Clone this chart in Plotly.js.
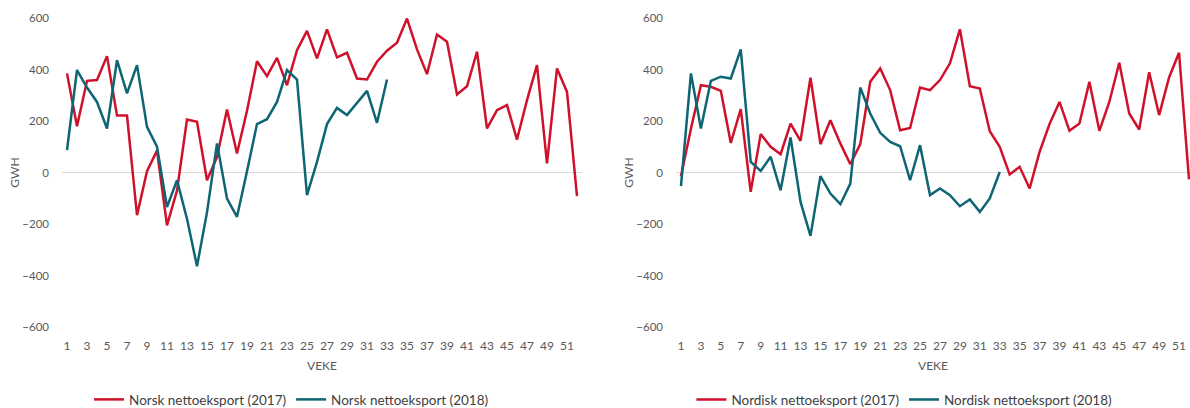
<!DOCTYPE html>
<html>
<head>
<meta charset="utf-8">
<script src="https://cdn.plot.ly/plotly-3.0.1.min.js"></script>
<style>
    body { margin: 0; background: #fff; }
    #chart { width: 1190px; height: 408px; }
</style>
</head>
<body>
<div id="chart"></div>
<script>
const weeks = Array.from({ length: 52 }, (_, i) => i + 1);
const weekTicks = weeks.filter(w => w % 2 === 1);
const gwhTicks = [-600, -400, -200, 0, 200, 400, 600];

// Norsk nettoeksport, GWh per veke
const norsk2017 = [385, 180, 356, 359, 452, 221, 221, -166, 5, 85, -205, -70, 206, 197, -30, 60, 245, 74, 240, 432,
    374, 445, 339, 475, 550, 443, 556, 447, 465, 365, 361, 430, 473, 504, 598, 478, 382, 536, 508, 303,
    335, 469, 171, 242, 262, 128, 281, 417, 35, 404, 313, -92];
const norsk2018 = [87, 398, 330, 274, 171, 436, 307, 417, 177, 100, -134, -30, -180, -364, -155, 113, -101, -172, 5, 188,
    207, 274, 398, 361, -88, 41, 188, 251, 223, 271, 317, 193, 361];

// Nordisk nettoeksport, GWh per veke
const nordisk2017 = [-15, 170, 339, 333, 317, 115, 246, -75, 149, 100, 71, 190, 123, 368, 110, 203, 113, 32, 110, 352,
    404, 320, 164, 173, 330, 320, 359, 424, 556, 335, 326, 160, 100, -8, 22, -62, 80, 188, 274, 162,
    190, 352, 162, 274, 426, 229, 167, 389, 223, 369, 465, -27];
const nordisk2018 = [-53, 385, 171, 356, 372, 365, 478, 41, 6, 61, -69, 136, -114, -246, -14, -82, -123, -43, 330, 229,
    154, 119, 102, -30, 106, -88, -62, -88, -131, -105, -153, -101, 2];

const red = "#D0112B";
const teal = "#0E6574";
const grey = "#595959";
const font = "Lato, 'Open Sans', sans-serif";

function line(y, name, color, xa, ya, legend) {
    return {
        x: weeks.slice(0, y.length),
        y: y,
        name: name,
        type: "scatter",
        mode: "lines",
        line: { color: color, width: 2.5 },
        xaxis: xa,
        yaxis: ya,
        legend: legend
    };
}

const data = [
    line(norsk2017, "Norsk nettoeksport (2017)", red, "x", "y", "legend"),
    line(norsk2018, "Norsk nettoeksport (2018)", teal, "x", "y", "legend"),
    line(nordisk2017, "Nordisk nettoeksport (2017)", red, "x2", "y2", "legend2"),
    line(nordisk2018, "Nordisk nettoeksport (2018)", teal, "x2", "y2", "legend2")
];

function xAxis(domain, range, anchor) {
    return {
        domain: domain,
        range: range,
        anchor: anchor,
        automargin: false,
        tickvals: weekTicks,
        showgrid: false,
        zeroline: false,
        showline: false,
        ticks: "",
        ticklabelstandoff: 10,
        tickfont: { family: font, size: 12, color: grey },
        title: { text: "VEKE", font: { family: font, size: 12, color: grey }, standoff: 9 }
    };
}

function yAxis(anchor) {
    return {
        anchor: anchor,
        automargin: false,
        range: [-600, 600],
        tickvals: gwhTicks,
        showgrid: false,
        zeroline: true,
        zerolinecolor: "#D9D9D9",
        zerolinewidth: 1,
        showline: false,
        ticks: "",
        ticklabelstandoff: 12,
        tickfont: { family: font, size: 11.5, color: grey },
        title: { text: "GWH", font: { family: font, size: 12, color: grey }, standoff: 0 }
    };
}

function legendAt(x) {
    return {
        orientation: "h",
        x: x,
        xanchor: "center",
        y: -0.235,
        yanchor: "middle",
        font: { family: font, size: 13.5, color: "#404040" },
        itemwidth: 30,
        bgcolor: "rgba(0,0,0,0)"
    };
}

const layout = {
    width: 1190,
    height: 408,
    margin: { l: 0, r: 0, t: 18, b: 81, autoexpand: false },
    paper_bgcolor: "#fff",
    plot_bgcolor: "#fff",
    showlegend: true,
    xaxis: xAxis([62 / 1190, 582 / 1190], [0.5, 52.5], "y"),
    yaxis: yAxis("x"),
    xaxis2: xAxis([676 / 1190, 1], [0.5, 52.1], "y2"),
    yaxis2: yAxis("x2"),
    legend: legendAt(0.245),
    legend2: legendAt(0.76)
};

Plotly.newPlot("chart", data, layout, { staticPlot: true });
</script>
</body>
</html>
